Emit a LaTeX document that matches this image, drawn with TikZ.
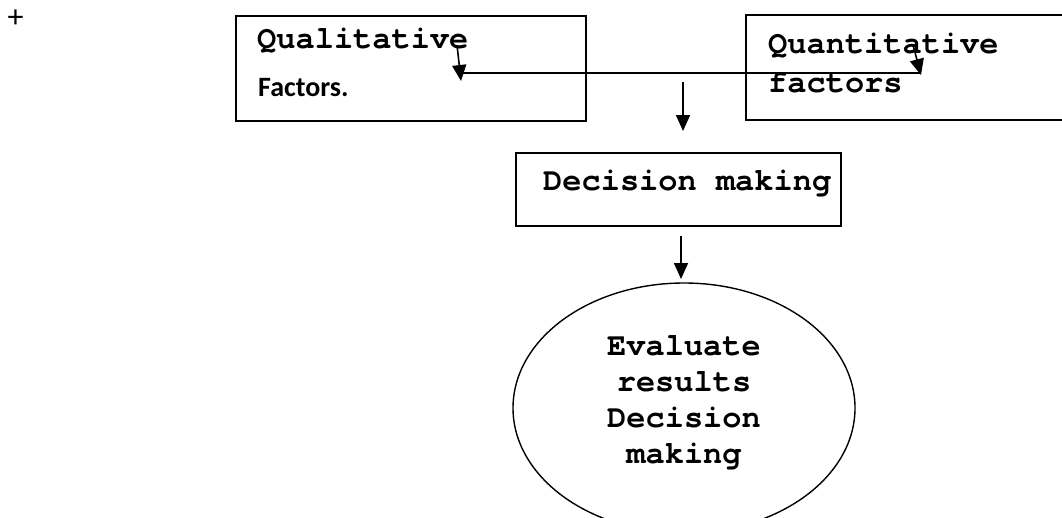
\documentclass[tikz,border=0pt]{standalone}
\usepackage{fontspec}
\newfontfamily\courfont{texgyrecursor}[Extension=.otf,UprightFont=*-regular,BoldFont=*-bold]
\newfontfamily\calfont{Carlito}
\usetikzlibrary{arrows.meta,shapes.geometric}
\begin{document}
\begin{tikzpicture}[x=1pt,y=-1pt,
  boxstyle/.style={draw,line width=1.4pt,rectangle,inner sep=0pt},
  cour/.style={font=\courfont\bfseries\fontsize{32}{36}\selectfont,inner sep=0pt},
  arr/.style={line width=1.6pt,-{Triangle[length=16pt,width=14pt]}},
  link/.style={line width=1.4pt}]
\useasboundingbox (0,0) rectangle (1062,517);
\node[font=\calfont\fontsize{32}{36}\selectfont,inner sep=0pt] (plus) at (15.5,19) {+};
% boxes
\node[boxstyle,minimum width=350pt,minimum height=105pt] (qual) at (411,68.5) {};
\node[boxstyle,minimum width=330pt,minimum height=105pt] (quant) at (911,67.5) {};
\node[boxstyle,minimum width=325pt,minimum height=73pt] (dec) at (678.5,189.5) {};
\node[draw,line width=1.4pt,ellipse,minimum width=342pt,minimum height=250pt,inner sep=0pt] (ell) at (684,408) {};
% texts
\node[cour,anchor=base west] (t1) at (257,48) {Qualitative};
\node[font=\calfont\bfseries\fontsize{28}{32}\selectfont,inner sep=0pt,anchor=base west] (t2) at (258,96) {Factors.};
\node[cour,anchor=base west] (t3) at (768,53) {Quantitative};
\node[cour,anchor=base west] (t4) at (768,92) {factors};
\node[cour,anchor=base west] (t5) at (543,190) {Decision making};
\node[cour,align=center] (t6) at (684,403) {Evaluate\\results\\Decision\\making};
% connectors
\coordinate (la) at (457,45);
\coordinate (lb) at (461,81);
\coordinate (ra) at (913,45);
\coordinate (rb) at (921,75);
\coordinate (ha) at (463,73);
\coordinate (hb) at (921,73);
\coordinate (ma) at (683,82);
\coordinate (mb) at (683,131);
\coordinate (da) at (681,236);
\coordinate (db) at (681,279);
\draw[arr] (la) -- (lb);
\draw[arr] (ra) -- (rb);
\draw[link] (ha) -- (hb);
\draw[arr] (ma) -- (mb);
\draw[arr] (da) -- (db);
\end{tikzpicture}
\end{document}
